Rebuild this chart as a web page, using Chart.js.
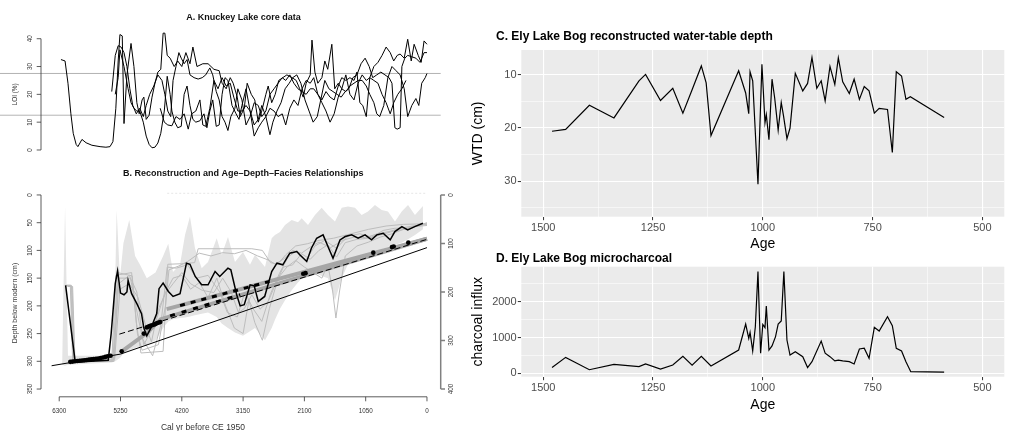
<!DOCTYPE html>
<html>
<head>
<meta charset="utf-8">
<script src="https://cdn.jsdelivr.net/npm/chart.js@4.4.1/dist/chart.umd.min.js"></script>
<style>
  body { margin: 0; background: #fff; }
  #figura { position: relative; width: 1013px; height: 431px; overflow: hidden; }
  canvas { position: absolute; }
</style>
</head>
<body>
<div id="figura">
  <canvas id="painelA" width="470" height="160" style="left:0;top:0"></canvas>
  <canvas id="painelB" width="470" height="271" style="left:0;top:160px"></canvas>
  <canvas id="painelC" width="543" height="240" style="left:470px;top:20px"></canvas>
  <canvas id="painelD" width="543" height="181" style="left:470px;top:250px"></canvas>
</div>
<script>
// ---------- A. Knuckey Lake LOI (%), x in cal yr BP ----------
var loi1Age = [6270,6200,6150,6100,6060,6010,5980,5910,5840,5740,5600,5500,5430,5380,5330,5290,5260,5220,5190,5140,
  5070,5020,4970,4930,4880,4850,4810,4760,4710,4660,4610,4560,4520,4490,4450,4400,4330,4270,4200,4130,
  4060,4010,3940,3840,3750,3650,3560,3510,3440,3370,3320,3250,3200,3130,3080,3010,2950,2890,2830,2760,
  2720,2660,2600,2540,2470,2400,2310,2240,2180,2120,2070,2000,1970,1920,1870,1800,1750,1700,1630,1580,
  1520,1460,1390,1320,1250,1180,1110,1040,980,910,860,810,740,670,600,530,460,390,330,260,190,140,90,30,0];
var loi1 = [32.5,32,24,13,6,2,1.2,3.8,2.6,1.7,1.2,1,1.2,3,15,32,41.5,41,9.5,27,
  38.3,30,17,13,18,19,11,12.5,19,24,28,29,42,42,34,33,30,32,30,35,
  31,37,30,31,31,29,28.5,24,22,26,24,19,12,15,24,20,18,10,14,20,
  23,17,20,25,26,27,26,25,22,19,24,27,39.5,28,24,26,32,29,38,22,
  24,22,21,23,24,25,25,23,20,17,13,12,16,26,30,28.5,27,22,12,16,18.5,16,24,26,27.5];
var loi2Age = [5400,5340,5290,5240,5190,5140,5090,5040,4980,4920,4860,4810,4750,4680,4610,4540,4490,4440,4390,4350,
  4300,4250,4210,4160,4110,4060,3990,3920,3850,3790,3720,3670,3610,3560,3510,3460,3410,3360,3290,3240,
  3170,3100,3030,2960,2890,2830,2760,2690,2620,2550,2480,2420,2350,2280,2210,2140,2070,2000,1940,1870,
  1800,1730,1660,1590,1520,1460,1390,1320,1250,1200,1150,1100,1040,980,910,840,770,700,630,570,
  510,460,390,330,270,220,150,100,50,0];
var loi2 = [21,34,37.5,37,35,30,22,16,13,15,12,16,20,23,27,25,20,14,12,25,
  30,35,33,31,32.5,27,26,25.5,26,27,29.5,27,21,18,12,10,7,12,15,22,
  18,9,12,17,16,12,14,20,22,24,26,25,27,24,22,21,20,22,22,20,
  18,21,19,18,23,26,25,26,25,28,17,16,12,26,30,31.5,34,37,35,32,
  34,34.5,33,39.8,32,38,34,31.5,39.2,38];
var loi3Age = [5340,5290,5260,5190,5120,5070,5020,4970,4920,4860,4810,4760,4710,4660,4610,4560,4500,4450,4400,4370,
  4320,4270,4210,4160,4110,4060,4010,3960,3890,3820,3770,3720,3670,3610,3560,3510,3460,3410,3340,3270,
  3220,3170,3100,3030,2960,2890,2830,2760,2690,2640,2570,2500,2430,2360,2300,2230,2160,2090,2020,1950,
  1880,1820,1750,1680,1610,1540,1470,1400,1340,1270,1200,1130,1060,990,930,860,790,720,650,600,
  550,510,460,430,380,330,260,190,120,50,0];
var loi3 = [20,26,36,30,22,17,15,14,14,10,5,2,0.8,1,2.5,6,14,26.5,20,14,
  10,8,8.5,20,23,16,11,10,10.5,13,8,14,18,8.5,9,20,26,25,16,13,
  11,16,22,14,9,11,16,12,5.5,10,14,17,22,24,26,27,24,18,14,10,
  12,18,25,22,21,20,19,21,22,26,27,31,33,30,26,27,28,27,26,24,
  8,7.5,8,30,33,34,33.5,33,31.5,35,35];
var loi4Age = [4570,4500,4440,4370,4300,4230,4160,4090,4030,3960,3890,3840,3790,3720,3650,3580,3510,3440,3370,3310,
  3240,3170,3100,3030,2960,2890,2830,2760,2690,2620,2550,2480,2420,2350,2280,2210,2140,2070,2000,1940,
  1870,1800,1730,1660,1590,1520,1460,1390,1320,1250,1180,1110,1040,980,910,840,770,700,630,570,500,430,360];
var loi4 = [15,10,9,8.7,12,11,13,7.5,13,14,18,9,8.5,15,25,22,26,23,24,19,
  14,14,16,14,5,8,10,12,15,14,12,13,9,15,18,16,22,25,24,26,
  20,17,14,10,13,19,22,27,20,18,24,27,25,26,25,24,20,17,13,17,20,22,25];
var loiLimites = [27.5, 12.5];
var loiTicks = [0, 10, 20, 30, 40];

// ---------- B. reconstruction and age-depth-facies ----------
var bandAge = [6250,6200,6150,5400,5340,5316,5260,5200,5100,5000,4916,4800,4650,4520,4432,4351,4231,4145,4060,3974,
  3859,3751,3602,3517,3409,3289,3152,3032,2946,2775,2660,2604,2518,2432,2318,2210,2146,2038,1919,1804,
  1696,1576,1461,1353,1233,1119,1011,891,776,668,548,433,325,206,69];
var bandTop = [300,21,290,290,150,27,150,87,45,110,126,150,140,110,88,139,126,72,39,96,
  132,121,78,108,76,121,103,126,108,130,78,72,67,54,45,49,42,54,36,23,
  36,48,23,21,23,36,30,18,27,30,48,30,18,36,20];
var bandBottom = [306,308,306,302,300,298,294,286,280,276,273,270,262,240,228,224,222,221,219,217,
  214,212,220,232,240,248,254,246,240,262,240,225,205,190,172,158,150,143,140,146,
  150,190,150,125,118,112,108,102,98,94,90,86,80,72,62];

var ens1Age = [6190,6110,6070,5400,5330,5060,4980,4900,4520,4440,4200,3980,3920,3000,2820,2680,2560,2420,2250,2050,1850,1600,1300,1000,700,400,0];
var ens1Depth = [163,163,300,300,145,140,230,285,282,125,124,122,97,97,100,122,125,108,92,88,82,78,70,62,56,53,52];
var ens2Age = [6180,6100,6060,5380,5300,5050,4960,4880,4600,4480,4420,4250,4100,3900,3700,3500,3300,3100,2900,2700,2600,2450,2300,2150,2000,1850,1650,1450,1250,1050,850,650,450,250,0];
var ens2Depth = [163,163,300,300,140,146,250,280,270,200,135,128,120,105,110,104,106,100,110,118,125,115,100,105,94,85,95,82,76,77,70,66,60,56,53];
var ens3Age = [6170,6090,6050,5360,5290,5080,4950,4850,4650,4500,4350,4200,4050,3900,3750,3600,3450,3300,3150,3050,2950,2820,2700,2550,2400,2250,2100,1950,1800,1700,1620,1560,1500,1400,1200,1000,800,600,400,200,0];
var ens3Depth = [163,163,300,300,150,150,220,270,230,180,150,145,170,158,185,150,200,240,250,190,230,262,205,150,130,118,130,140,150,125,170,222,175,110,92,85,76,70,62,57,55];
var ens4Age = [6160,6080,6040,5370,5280,5100,4970,4870,4700,4560,4450,4300,4100,3950,3750,3550,3420,3250,3120,2980,2830,2680,2530,2380,2230,2080,1920,1750,1550,1350,1150,950,750,550,300,0];
var ens4Depth = [165,165,298,298,160,145,175,260,290,235,130,132,126,150,145,175,212,220,175,205,228,178,142,112,100,118,92,82,96,74,70,76,64,60,60,50];
var ens5Age = [6150,6070,6030,5350,5260,5100,4950,4820,4720,4600,4480,4350,4200,4050,3850,3650,3500,3350,3230,3130,3000,2860,2720,2600,2460,2300,2150,2000,1850,1700,1550,1400,1200,1000,800,600,400,200,0];
var ens5Depth = [165,165,300,296,170,160,185,235,265,205,178,160,140,160,172,176,150,176,212,205,180,206,192,162,130,126,106,116,100,90,112,86,80,78,72,66,62,56,52];

var reconAge = [6190,6030,5980,5460,5410,5340,5300,5250,5190,5140,5120,5060,4970,4890,4850,4800,4720,4630,4590,4520,
  4430,4350,4230,4120,4060,3970,3860,3750,3630,3550,3410,3360,3260,3200,3130,3030,2960,2890,2780,2660,
  2570,2470,2350,2230,2180,2060,1980,1890,1780,1660,1610,1490,1400,1290,1180,1060,950,860,750,630,
  550,430,330,210,70];
var reconDepth = [163,298,301,298,250,160,137,177,180,175,154,178,196,214,240,254,238,214,169,159,
  174,183,178,123,125,147,162,162,138,147,132,135,180,200,198,162,164,192,183,138,
  123,126,105,102,108,120,96,78,72,102,114,81,75,72,78,72,81,72,69,81,
  66,57,63,57,51];

var facies1Age = [4460, 0];
var facies1Depth = [206, 79];
var facies2Age = [5250, 4800, 4560, 0];
var facies2Depth = [284, 249, 224, 79];
var modeloBaixoAge = [6430, 5250, 0];
var modeloBaixoDepth = [308, 287, 95];
var modeloAltoAge = [5270, 0];
var modeloAltoDepth = [251, 80];
var tracos1Age = [4230, 2700];
var tracos1Depth = [199.5, 156];
var tracos2Age = [4400, 3200];
var tracos2Depth = [218, 180];
var topoAge = [4450, 0];
var topoDepth = [-3, -3];
var datasAge = [6110,6070,6030,5990,5950,5910,5870,5830,5790,5750,5710,5670,5630,5590,5550,5510,5470,5420,
  5230,4850,4800,4770,4740,4710,4680,4650,4620,4590,4570,2120,2080,920,600,570,320];
var datasDepth = [301,300.5,300,299.5,299,298.5,298,297.5,297,296.5,296,295.5,295,294,293,292,291,290,
  282,250,239,237.5,236,235,234,232.5,231,230,229,142,141,104,94,93,86];

var depthTicks = [0, 50, 100, 150, 200, 250, 300, 350];
var ageTicksB = [6300, 5250, 4200, 3150, 2100, 1050, 0];
var rightTicks = [0, 100, 200, 300, 400];

// ---------- C. Ely Lake Bog water-table depth ----------
var wtdAge = [1480,1449,1395,1339,1282,1267,1233,1205,1182,1161,1140,1129,1118,1055,1039,1032,1029,1023,1011,1002,
  995,992,986,979,973,965,958,953,945,938,926,909,898,888,877,867,858,847,836,828,
  818,803,792,780,769,758,746,735,716,705,696,684,674,664,587];
var wtd = [20.6,20.25,15.7,18.1,11.1,9.9,14.8,12.5,17.2,12.8,8.3,11.5,21.4,9.2,13.4,17.3,9.4,11.1,30.6,8.0,
  19.0,17.5,22.2,10.8,14.3,20.4,15.2,17.6,22.0,20.0,9.7,13.0,11.6,6.7,12.5,11.1,14.9,8.4,11.8,6.8,
  11.3,13.5,10.8,14.6,12.2,13.0,17.2,16.3,16.5,24.6,9.4,10.2,14.6,14.1,18.0];

// ---------- D. Ely Lake Bog microcharcoal ----------
var charAge = [1480,1449,1395,1339,1282,1267,1233,1205,1182,1161,1140,1118,1055,1039,1032,1029,1023,1017,1011,1005,
  1000,995,992,986,979,971,965,958,952,945,938,926,909,898,888,867,858,847,836,828,
  818,803,792,780,769,758,746,735,716,705,696,684,674,663,587];
var charcoal = [160,445,100,250,185,260,120,230,475,230,475,205,650,1375,975,1145,625,1300,2840,560,
  1365,1275,1880,650,765,1025,1375,1460,2840,930,510,605,465,160,325,900,560,465,345,370,
  345,325,260,680,700,420,1285,1180,1580,1330,700,625,325,45,30];

var ageTicksCD = [1500, 1250, 1000, 750, 500];
var ageMinorCD = [1375, 1125, 875, 625];
var wtdTicks = [10, 20, 30];
var wtdMinor = [15, 25, 35];
var charTicks = [0, 1000, 2000];
var charMinor = [500, 1500, 2500];

Chart.defaults.font.family = 'Liberation Sans';

function pares(xs, ys) {
    return xs.map(function (x, i) { return { x: x, y: ys[i] }; });
}

function linha(xs, ys, cor, largura, ordem, extra) {
    var ds = { data: pares(xs, ys), borderColor: cor, borderWidth: largura, pointRadius: 0, fill: false, order: ordem };
    for (var k in extra) ds[k] = extra[k];
    return ds;
}

function textoRodado(ctx, txt, x, y) {
    ctx.save();
    ctx.translate(x, y);
    ctx.rotate(-Math.PI / 2);
    ctx.textAlign = 'center';
    ctx.textBaseline = 'middle';
    ctx.fillText(txt, 0, 0);
    ctx.restore();
}

// base R style axis: line only between first and last tick, rotated labels
function eixoY(ctx, escala, ticks, x, lado, cor, largura) {
    ctx.strokeStyle = cor;
    ctx.lineWidth = largura;
    ctx.beginPath();
    ctx.moveTo(x, escala.getPixelForValue(ticks[0]));
    ctx.lineTo(x, escala.getPixelForValue(ticks[ticks.length - 1]));
    ticks.forEach(function (t) {
        var y = escala.getPixelForValue(t);
        ctx.moveTo(x, y);
        ctx.lineTo(x + lado * 4.3, y);
    });
    ctx.stroke();
    ctx.fillStyle = '#333';
    ctx.font = '6.3px "Liberation Sans"';
    ticks.forEach(function (t) {
        textoRodado(ctx, String(t), x + lado * 11, escala.getPixelForValue(t));
    });
}

function eixoX(ctx, escala, ticks, y) {
    ctx.strokeStyle = '#333';
    ctx.lineWidth = 0.8;
    ctx.beginPath();
    ctx.moveTo(escala.getPixelForValue(ticks[0]), y);
    ctx.lineTo(escala.getPixelForValue(ticks[ticks.length - 1]), y);
    ticks.forEach(function (t) {
        var x = escala.getPixelForValue(t);
        ctx.moveTo(x, y);
        ctx.lineTo(x, y + 4.5);
    });
    ctx.stroke();
    ctx.fillStyle = '#333';
    ctx.font = '6.3px "Liberation Sans"';
    ctx.textAlign = 'center';
    ctx.textBaseline = 'middle';
    ticks.forEach(function (t) {
        ctx.fillText(String(t), escala.getPixelForValue(t), y + 14);
    });
}

function tituloR(ctx, txt, x, y) {
    ctx.fillStyle = '#111';
    ctx.font = 'bold 9px "Liberation Sans"';
    ctx.textAlign = 'center';
    ctx.textBaseline = 'middle';
    ctx.fillText(txt, x, y);
}

var eixosA = {
    id: 'eixosA',
    beforeDatasetsDraw: function (chart) {
        var ctx = chart.ctx, area = chart.chartArea, sy = chart.scales.y;
        ctx.save();
        ctx.strokeStyle = '#AAAAAA';
        ctx.lineWidth = 0.9;
        loiLimites.forEach(function (v) {
            var y = sy.getPixelForValue(v);
            ctx.beginPath();
            ctx.moveTo(0, y);
            ctx.lineTo(area.right, y);
            ctx.stroke();
        });
        ctx.restore();
    },
    afterDraw: function (chart) {
        var ctx = chart.ctx, area = chart.chartArea, sy = chart.scales.y;
        ctx.save();
        eixoY(ctx, sy, loiTicks, area.left, -1, '#333', 0.8);
        ctx.fillStyle = '#333';
        ctx.font = '6.4px "Liberation Sans"';
        textoRodado(ctx, 'LOI (%)', 15, sy.getPixelForValue(20));
        tituloR(ctx, 'A. Knuckey Lake core data', 243.5, 17.3);
        ctx.restore();
    }
};

var eixosB = {
    id: 'eixosB',
    afterDraw: function (chart) {
        var ctx = chart.ctx, area = chart.chartArea;
        ctx.save();
        eixoY(ctx, chart.scales.y, depthTicks, area.left, -1, '#333', 0.8);
        eixoY(ctx, chart.scales.y2, rightTicks, area.right, 1, '#808080', 1.5);
        eixoX(ctx, chart.scales.x, ageTicksB, area.bottom);
        ctx.fillStyle = '#333';
        ctx.font = '7px "Liberation Sans"';
        textoRodado(ctx, 'Depth below modern (cm)', 15, 143);
        ctx.font = '8.5px "Liberation Sans"';
        ctx.textAlign = 'center';
        ctx.fillText('Cal yr before CE 1950', 203, 268);
        tituloR(ctx, 'B. Reconstruction and Age\u2013Depth\u2013Facies Relationships', 243.3, 13.3);
        ctx.restore();
    }
};

function fundoGG(titulo, tx, ty) {
    return {
        id: 'fundoGG',
        beforeDraw: function (chart) {
            var ctx = chart.ctx, a = chart.chartArea;
            ctx.save();
            ctx.fillStyle = '#EBEBEB';
            ctx.fillRect(a.left, a.top, a.right - a.left, a.bottom - a.top);
            ctx.restore();
        },
        afterDraw: function (chart) {
            var ctx = chart.ctx;
            ctx.save();
            ctx.fillStyle = '#000';
            ctx.font = 'bold 12px "Liberation Sans"';
            ctx.textAlign = 'left';
            ctx.textBaseline = 'middle';
            ctx.fillText(titulo, tx, ty);
            ctx.restore();
        }
    };
}

function eixoGG(min, max, principais, secundarios, reverso, tamanho, lado, titulo, tituloPad) {
    var todos = principais.concat(secundarios);
    var ehPrincipal = function (c) { return c.tick && principais.indexOf(c.tick.value) >= 0; };
    return {
        type: 'linear', min: min, max: max, reverse: reverso,
        afterBuildTicks: function (s) { s.ticks = todos.map(function (v) { return { value: v }; }); },
        afterFit: function (s) { if (lado === 'x') s.height = tamanho; else s.width = tamanho; },
        border: { display: false },
        grid: {
            color: '#FFFFFF',
            lineWidth: function (c) { return ehPrincipal(c) ? 1.1 : 0.55; },
            tickColor: function (c) { return ehPrincipal(c) ? '#333333' : 'rgba(0,0,0,0)'; },
            tickLength: 3.5,
            tickWidth: 1
        },
        ticks: {
            autoSkip: false, maxRotation: 0, minRotation: 0, padding: 1.2,
            color: '#4D4D4D', font: { family: 'Liberation Sans', size: 11 },
            callback: function (v) { return principais.indexOf(v) >= 0 ? String(v) : ''; }
        },
        title: { display: true, text: titulo, color: '#000', font: { family: 'Liberation Sans', size: 14 }, padding: tituloPad }
    };
}

var semLegenda = { legend: { display: false }, tooltip: { enabled: false } };

function plotarPainelA() {
    new Chart(document.getElementById('painelA'), {
        type: 'line',
        data: {
            datasets: [
                linha(loi1Age, loi1, '#000', 1, 1),
                linha(loi2Age, loi2, '#000', 1, 1),
                linha(loi3Age, loi3, '#000', 1, 1),
                linha(loi4Age, loi4, '#000', 1, 1)
            ]
        },
        options: {
            responsive: false, animation: false,
            layout: { padding: { left: 41, right: 29.3, top: 30, bottom: 5 } },
            plugins: semLegenda,
            scales: {
                x: { type: 'linear', display: false, min: -235, max: 6612, reverse: true },
                y: { type: 'linear', display: false, min: -1.8, max: 43.13 }
            }
        },
        plugins: [eixosA]
    });
}

function plotarPainelB() {
    var ensCor = '#BDBDBD';
    new Chart(document.getElementById('painelB'), {
        type: 'line',
        data: {
            datasets: [
                linha(bandAge, bandTop, 'rgba(0,0,0,0)', 1, 20, { fill: '+1', backgroundColor: '#E4E4E4' }),
                linha(bandAge, bandBottom, 'rgba(0,0,0,0)', 1, 20),
                linha(topoAge, topoDepth, '#E6E6E6', 1, 19, { borderDash: [2, 2] }),
                linha(ens1Age, ens1Depth, ensCor, 1, 15),
                linha(ens2Age, ens2Depth, ensCor, 1, 15),
                linha(ens3Age, ens3Depth, ensCor, 1, 15),
                linha(ens4Age, ens4Depth, ensCor, 1, 15),
                linha(ens5Age, ens5Depth, ensCor, 1, 15),
                linha(facies1Age, facies1Depth, '#A6A6A6', 4, 12),
                linha(facies2Age, facies2Depth, '#A6A6A6', 4, 12),
                linha(modeloBaixoAge, modeloBaixoDepth, '#000', 1, 10),
                linha(modeloAltoAge, modeloAltoDepth, '#000', 1, 10, { borderDash: [6, 3] }),
                linha(tracos1Age, tracos1Depth, '#000', 3, 8, { borderDash: [5, 6] }),
                linha(tracos2Age, tracos2Depth, '#000', 3, 8, { borderDash: [5, 7] }),
                linha(datasAge, datasDepth, '#000', 0, 6, { showLine: false, pointRadius: 2.3, pointBackgroundColor: '#000', pointBorderWidth: 0 }),
                linha(reconAge, reconDepth, '#000', 1.5, 1)
            ]
        },
        options: {
            responsive: false, animation: false,
            layout: { padding: { left: 41, right: 29.3, top: 27.2, bottom: 34.2 } },
            plugins: semLegenda,
            scales: {
                x: { type: 'linear', display: false, min: -235, max: 6612, reverse: true },
                y: { type: 'linear', display: false, min: -14, max: 364, reverse: true },
                y2: { type: 'linear', display: false, min: -16, max: 416, reverse: true }
            }
        },
        plugins: [eixosB]
    });
}

function plotarPainelC() {
    new Chart(document.getElementById('painelC'), {
        type: 'line',
        data: { datasets: [linha(wtdAge, wtd, '#000', 1.2, 1)] },
        options: {
            responsive: false, animation: false,
            layout: { padding: { left: 0, right: 8.7, top: 30, bottom: 0 } },
            plugins: semLegenda,
            scales: {
                x: eixoGG(450, 1550, ageTicksCD, ageMinorCD, true, 43.3, 'x', 'Age', { top: 0, bottom: 7.6 }),
                y: eixoGG(5.3, 36.7, wtdTicks, wtdMinor, true, 51.3, 'y', 'WTD (cm)', { top: 0, bottom: 0 })
            }
        },
        plugins: [fundoGG('C. Ely Lake Bog reconstructed water-table depth', 26, 17)]
    });
}

function plotarPainelD() {
    new Chart(document.getElementById('painelD'), {
        type: 'line',
        data: { datasets: [linha(charAge, charcoal, '#000', 1.2, 1)] },
        options: {
            responsive: false, animation: false,
            layout: { padding: { left: 0, right: 8.7, top: 16.7, bottom: 0 } },
            plugins: semLegenda,
            scales: {
                x: eixoGG(450, 1550, ageTicksCD, ageMinorCD, true, 54.3, 'x', 'Age', { top: 0, bottom: 17.6 }),
                y: eixoGG(-95, 2977, charTicks, charMinor, false, 51.3, 'y', 'charcoal influx', { top: 0, bottom: 0 })
            }
        },
        plugins: [fundoGG('D. Ely Lake Bog microcharcoal', 26, 9)]
    });
}

plotarPainelA();
plotarPainelB();
plotarPainelC();
plotarPainelD();
</script>
</body>
</html>
